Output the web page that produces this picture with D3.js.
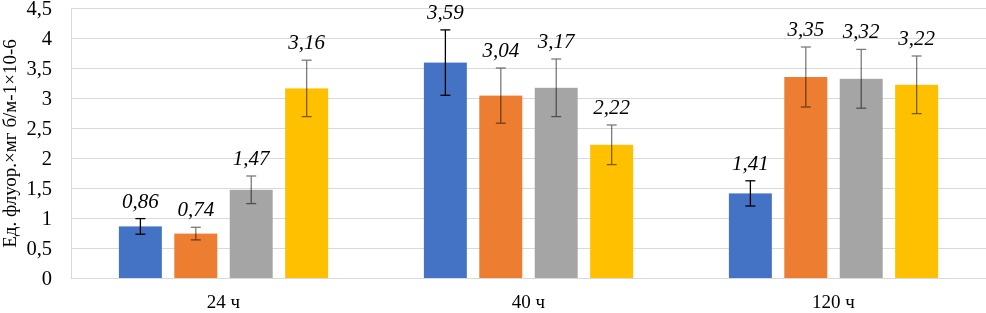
<!DOCTYPE html>
<html>
<head>
<meta charset="utf-8">
<script src="https://cdn.jsdelivr.net/npm/d3@7"></script>
<style>
  body { margin: 0; background: #fff; }
  svg { display: block; font-family: "Liberation Serif", "Times New Roman", serif; }
</style>
</head>
<body>
<div id="chart"></div>
<script>
// Data
const categories = ["24 ч", "40 ч", "120 ч"];
const seriesNames = ["s1", "s2", "s3", "s4"];
const seriesColors = ["#4472C4", "#ED7D31", "#A5A5A5", "#FFC000"];
const values = [
    [0.86, 0.74, 1.47, 3.16],
    [3.59, 3.04, 3.17, 2.22],
    [1.41, 3.35, 3.32, 3.22]
];
const errors = [
    [0.13, 0.105, 0.23, 0.47],
    [0.545, 0.46, 0.48, 0.33],
    [0.21, 0.50, 0.49, 0.48]
];
const yTicks = [0, 0.5, 1, 1.5, 2, 2.5, 3, 3.5, 4, 4.5];
const yTitle = "Ед. флуор.×мг б/м-1×10-6";

const width = 986;
const height = 313;
const margin = { top: 8, right: 0, bottom: 35, left: 71 };
const innerWidth = width - margin.left - margin.right;
const innerHeight = height - margin.top - margin.bottom;

const fmt = v => v.toFixed(2).replace(".", ",");
const tickFmt = v => String(v).replace(".", ",");

const svg = d3.select("#chart")
    .append("svg")
    .attr("width", width)
    .attr("height", height);

const g = svg.append("g")
    .attr("transform", `translate(${margin.left},${margin.top})`);

const x0 = d3.scaleBand()
    .domain(categories)
    .range([0, innerWidth])
    .padding(0);

// bars take ~69% of each group band, centred
const groupSpan = x0.bandwidth() * 0.686;
const x1 = d3.scaleBand()
    .domain(seriesNames)
    .range([(x0.bandwidth() - groupSpan) / 2, (x0.bandwidth() + groupSpan) / 2])
    .paddingInner(0.225)
    .paddingOuter(0);

const y = d3.scaleLinear()
    .domain([0, 4.5])
    .range([innerHeight, 0]);

// Gridlines
g.append("g")
    .selectAll("line")
    .data(yTicks)
    .enter()
    .append("line")
    .attr("x1", 0)
    .attr("x2", innerWidth)
    .attr("y1", d => Math.round(y(d)) + 0.5)
    .attr("y2", d => Math.round(y(d)) + 0.5)
    .style("stroke", "#d9d9d9")
    .style("stroke-width", 1);

// Plot area left border
g.append("line")
    .attr("x1", 0.5).attr("x2", 0.5)
    .attr("y1", y(4.5)).attr("y2", y(0))
    .style("stroke", "#d9d9d9");

// Y axis tick labels
const yAxis = g.append("g")
    .call(d3.axisLeft(y).tickValues(yTicks).tickFormat(tickFmt).tickSize(0).tickPadding(19));
yAxis.select(".domain").remove();
yAxis.selectAll("text")
    .style("font-family", "Liberation Serif, serif")
    .style("font-size", "20.5px")
    .style("fill", "#000");

// Y axis title
svg.append("text")
    .attr("transform", "rotate(-90)")
    .attr("x", -143.5)
    .attr("y", 16)
    .attr("text-anchor", "middle")
    .style("font-size", "19px")
    .style("fill", "#000")
    .text(yTitle);

// X axis labels
const xAxis = g.append("g")
    .attr("transform", `translate(0,${innerHeight})`)
    .call(d3.axisBottom(x0).tickSize(0).tickPadding(17));
xAxis.select(".domain").remove();
xAxis.selectAll("text")
    .style("font-family", "Liberation Serif, serif")
    .style("font-size", "19px")
    .style("fill", "#000");

// Flatten
let flat = [];
categories.forEach((c, ci) => {
    seriesNames.forEach((s, si) => {
        flat.push({ cat: c, ser: s, si: si, value: values[ci][si], err: errors[ci][si] });
    });
});

const groups = g.selectAll(".grp")
    .data(flat)
    .enter()
    .append("g")
    .attr("class", "grp")
    .attr("transform", d => `translate(${x0(d.cat) + x1(d.ser)},0)`);

// Bars
groups.append("rect")
    .attr("x", 0)
    .attr("y", d => y(d.value))
    .attr("width", x1.bandwidth())
    .attr("height", d => y(0) - y(d.value))
    .style("fill", d => seriesColors[d.si]);

// Error bars
const bw = x1.bandwidth();
const cap = 5;
groups.each(function (d) {
    const eg = d3.select(this).append("g")
        .style("stroke", d.si === 0 ? "#000" : "#7a7a7a")
        .style("stroke-width", 1.3)
        .style("mix-blend-mode", "multiply");
    const cx = Math.round(bw / 2) + 0.5;
    eg.append("line")
        .attr("x1", cx).attr("x2", cx)
        .attr("y1", y(d.value + d.err)).attr("y2", y(d.value - d.err));
    eg.append("line")
        .attr("x1", cx - cap).attr("x2", cx + cap)
        .attr("y1", y(d.value + d.err)).attr("y2", y(d.value + d.err));
    eg.append("line")
        .attr("x1", cx - cap).attr("x2", cx + cap)
        .attr("y1", y(d.value - d.err)).attr("y2", y(d.value - d.err));
});

// Value labels
groups.append("text")
    .attr("x", bw / 2)
    .attr("y", d => y(d.value + d.err) - 11)
    .attr("text-anchor", "middle")
    .style("font-style", "italic")
    .style("font-size", "21px")
    .style("fill", "#000")
    .text(d => fmt(d.value));
</script>
</body>
</html>
